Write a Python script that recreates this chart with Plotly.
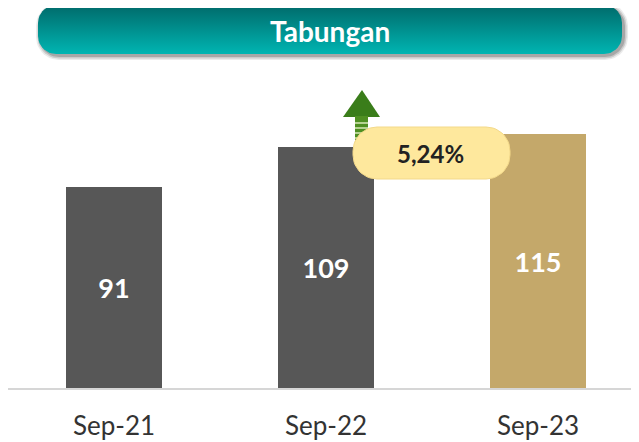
import numpy as np
import plotly.graph_objects as go

# ---- data ----
categories = ["Sep-21", "Sep-22", "Sep-23"]
values = [91, 109, 115]
bar_colors = ["#575757", "#575757", "#c4a86a"]
title_text = "Tabungan"
growth_label = "5,24%"

# The page body has an 8px margin, so the figure sits at (8, 8) in the window.
OFF = 8
WIN_W, WIN_H = 639, 442
W, H = WIN_W - OFF, WIN_H - OFF
FONT = "Lato"


def rounded_rect(x0, y0, x1, y1, r, n=12):
    """Polygon points (window pixel coords, y down) of a rounded rectangle."""
    pts_x, pts_y = [], []
    corners = [
        (x1 - r, y0 + r, -90, 0),
        (x1 - r, y1 - r, 0, 90),
        (x0 + r, y1 - r, 90, 180),
        (x0 + r, y0 + r, 180, 270),
    ]
    for cx, cy, a0, a1 in corners:
        t = np.radians(np.linspace(a0, a1, n))
        pts_x.extend(cx + r * np.cos(t))
        pts_y.extend(cy + r * np.sin(t))
    pts_x.append(pts_x[0])
    pts_y.append(pts_y[0])
    return pts_x, pts_y


fig = go.Figure()

# bars on the main axes
fig.add_trace(go.Bar(
    x=categories, y=values, marker=dict(color=bar_colors, line=dict(width=0)),
    width=0.453, text=[str(v) for v in values], textposition="inside",
    insidetextanchor="middle", textangle=0,
    textfont=dict(family=FONT, size=27, color="white", weight="bold"),
    hoverinfo="skip", showlegend=False, xaxis="x", yaxis="y",
))

deco = dict(xaxis="x2", yaxis="y2", hoverinfo="skip", showlegend=False, mode="lines")

# title box shadow
for off, op in [(5, 0.10), (3.5, 0.18), (2, 0.25)]:
    sx, sy = rounded_rect(38 - off + 3, 5 - off + 3, 622 + off + 1, 54 + off + 1, 18 + off)
    fig.add_trace(go.Scatter(x=sx, y=sy, fill="toself", line=dict(width=0),
                             fillcolor=f"rgba(60,60,60,{op})", **deco))
# title box (gradient)
tx, ty = rounded_rect(38, 5, 622, 54, 18)
fig.add_trace(go.Scatter(
    x=tx, y=ty, fill="toself", line=dict(width=0),
    fillgradient=dict(type="vertical", start=5, stop=54,
                      colorscale=[[0, "#006a6a"], [1, "#00b5b2"]]),
    **deco))

# green arrow
fig.add_trace(go.Scatter(x=[343, 362, 380, 343], y=[117, 90, 117, 117], fill="toself",
                         line=dict(width=0), fillcolor="#3a7d1a", **deco))
fig.add_trace(go.Scatter(x=[355, 368, 368, 355, 355], y=[116, 116, 145, 145, 116], fill="toself",
                         line=dict(width=0), fillcolor="#4f8f22", **deco))
for yy in [123, 128, 133, 138]:
    fig.add_trace(go.Scatter(x=[355, 368], y=[yy, yy], line=dict(width=1.5, color="#d8e8b8"), **deco))

# growth pill
px_, py_ = rounded_rect(353, 127, 510, 179, 24)
fig.add_trace(go.Scatter(x=px_, y=py_, fill="toself", line=dict(width=1, color="#f3d98a"),
                         fillcolor="#fee89d", **deco))

fig.add_annotation(x=330, y=31, xref="x2", yref="y2", text=title_text, showarrow=False,
                   font=dict(family=FONT, size=28, color="white", weight="bold"))
fig.add_annotation(x=430, y=153, xref="x2", yref="y2", text=growth_label, showarrow=False,
                   font=dict(family=FONT, size=24, color="#222222", weight="bold"))

base_y, top_y = 388, 80  # window pixels of the value axis
fig.update_layout(
    width=W, height=H, margin=dict(l=0, r=0, t=0, b=0),
    paper_bgcolor="white", plot_bgcolor="rgba(0,0,0,0)",
    xaxis=dict(domain=[0, 1], range=[-0.5, -0.5 + 631 / 212], showline=True,
               linecolor="#d6d6d6", linewidth=2, showgrid=False, zeroline=False,
               ticks="", ticklabelstandoff=14, automargin=False,
               tickfont=dict(family=FONT, size=26, color="#333333")),
    yaxis=dict(domain=[(WIN_H - base_y) / H, (WIN_H - top_y) / H],
               range=[0, (base_y - top_y) / 2.21], visible=False, automargin=False),
    xaxis2=dict(domain=[0, 1], range=[OFF, WIN_W], visible=False, anchor="y2"),
    yaxis2=dict(domain=[0, 1], range=[WIN_H, OFF], visible=False, anchor="x2"),
    bargap=0,
)

fig.write_html("out.html")
